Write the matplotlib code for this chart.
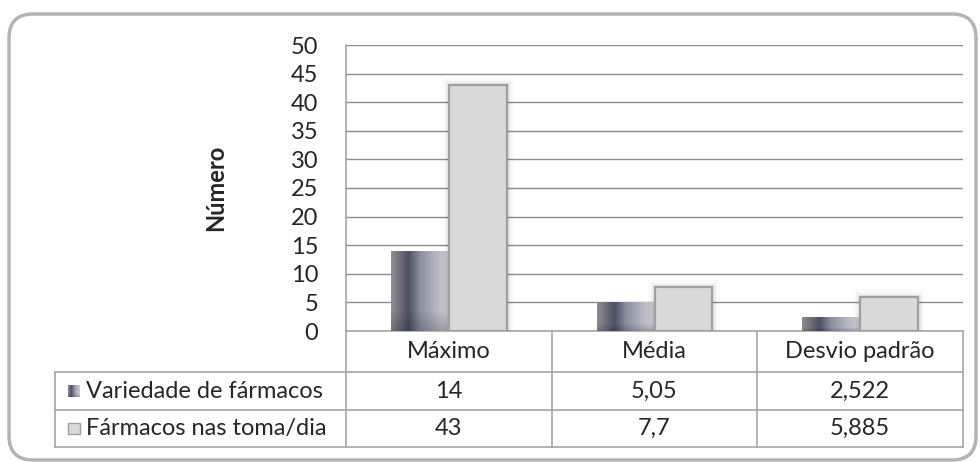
import matplotlib.pyplot as plt
import matplotlib.patheffects as pe
from matplotlib.patches import FancyBboxPatch, Rectangle
import numpy as np

# Data
categories = ['Máximo', 'Média', 'Desvio padrão']
series_names = ['Variedade de fármacos', 'Fármacos nas toma/dia']
variedade = [14, 5.05, 2.522]
tomas = [43, 7.7, 5.885]
variedade_txt = ['14', '5,05', '2,522']
tomas_txt = ['43', '7,7', '5,885']
yticks = [0, 5, 10, 15, 20, 25, 30, 35, 40, 45, 50]

plt.rcParams['font.family'] = ['Lato', 'DejaVu Sans']
fs = 17
txt_c = '#262626'
line_c = '#a6a6a6'

fig = plt.figure(figsize=(9.8, 4.62), dpi=100)
fig.patch.set_facecolor('white')

# Rounded chart border (drawn in a pixel-scaled background axes)
bg = fig.add_axes([0, 0, 1, 1])
bg.set_xlim(0, 980)
bg.set_ylim(462, 0)
bg.axis('off')
bg.add_patch(FancyBboxPatch((9, 14), 967, 446,
                            boxstyle='round,pad=0,rounding_size=24',
                            fill=False, edgecolor='#b4b4b4', linewidth=2.5))

ax = fig.add_axes([346 / 980, 131 / 462, 617 / 980, 286 / 462])
ax.set_xlim(-0.5, 2.5)
ax.set_ylim(0, 50)
ax.set_yticks(yticks)
ax.set_yticklabels([str(t) for t in yticks], fontsize=fs, color=txt_c)
ax.tick_params(axis='y', length=0, pad=20)
ax.set_xticks([])
ax.grid(axis='y', color='#8c8c8c', linewidth=1.0)
ax.set_axisbelow(True)
ax.patch.set_alpha(0)
for s in ['top', 'right', 'bottom']:
    ax.spines[s].set_visible(False)
ax.spines['left'].set_color(line_c)
ax.spines['left'].set_linewidth(1.2)
ax.set_ylabel('Número', fontsize=fs, fontweight='bold', labelpad=46, color=txt_c)

x = np.arange(len(categories))
w = 0.282

# horizontal colour profile of the dark bars (Excel-like gradient)
stops = np.array([0.0, 0.15, 0.3, 0.5, 0.75, 1.0])
cols = np.array([[142, 142, 144], [110, 111, 122], [77, 80, 98],
                 [138, 142, 160], [176, 178, 188], [207, 207, 211]]) / 255.0
gx = np.linspace(0, 1, 80)
prof = np.stack([np.interp(gx, stops, cols[:, k]) for k in range(3)], axis=1)
gy = np.linspace(0, 1, 40)[:, None, None]
shade = 0.82 + 0.18 * np.clip(gy * 4, 0, 1)
grad_img = prof[None, :, :] * shade

glow = [pe.Stroke(linewidth=10, foreground='#000000', alpha=0.02),
        pe.Stroke(linewidth=6, foreground='#000000', alpha=0.03),
        pe.Stroke(linewidth=3.5, foreground='#000000', alpha=0.05),
        pe.Normal()]

bars1 = ax.bar(x - w / 2, variedade, w, color='#8a8ea0', edgecolor='none', zorder=2)
for b in bars1:
    x0, y0 = b.get_x(), b.get_y()
    bw, bh = b.get_width(), b.get_height()
    im = ax.imshow(grad_img, aspect='auto', extent=(x0, x0 + bw, y0, y0 + bh),
                   origin='lower', interpolation='bilinear', zorder=2.5)
    im.set_clip_path(b)

bars2 = ax.bar(x + w / 2, tomas, w, color='#d9d9d9', edgecolor='#a0a0a0',
               linewidth=1.6, zorder=3)
for b in bars2:
    b.set_path_effects(glow)

# Data table below the axis
trans = ax.get_xaxis_transform()
row_y = [0, -41 / 286, -79 / 286, -116 / 286]
left_x = -0.5 - (346 - 55) / (617 / 3)

for xb in [-0.5, 0.5, 1.5, 2.5]:
    ax.plot([xb, xb], [row_y[0], row_y[3]], color=line_c, lw=1.2,
            transform=trans, clip_on=False)
ax.plot([-0.5, 2.5], [0, 0], color=line_c, lw=1.2, transform=trans, clip_on=False)
for ry in row_y[1:]:
    ax.plot([left_x, 2.5], [ry, ry], color=line_c, lw=1.2,
            transform=trans, clip_on=False)
ax.plot([left_x, left_x], [row_y[1], row_y[3]], color=line_c, lw=1.2,
        transform=trans, clip_on=False)

for i, c in enumerate(categories):
    ax.text(i, (row_y[0] + row_y[1]) / 2, c, ha='center', va='center',
            fontsize=fs, color=txt_c, transform=trans)
    ax.text(i, (row_y[1] + row_y[2]) / 2, variedade_txt[i], ha='center',
            va='center', fontsize=fs, color=txt_c, transform=trans)
    ax.text(i, (row_y[2] + row_y[3]) / 2, tomas_txt[i], ha='center',
            va='center', fontsize=fs, color=txt_c, transform=trans)

# Legend keys in the table
key_w = 0.055
key_h = 0.04
for j, name in enumerate(series_names):
    yc = (row_y[j + 1] + row_y[j + 2]) / 2
    kx = left_x + 0.065
    if j == 0:
        ax.imshow(grad_img, aspect='auto', origin='lower',
                  extent=(kx, kx + key_w, yc - key_h / 2, yc + key_h / 2),
                  transform=trans, clip_on=False, zorder=4)
    else:
        ax.add_patch(Rectangle((kx, yc - key_h / 2), key_w, key_h, transform=trans,
                               facecolor='#d9d9d9', edgecolor='#a0a0a0', lw=1,
                               clip_on=False, zorder=4))
    ax.text(kx + key_w + 0.03, yc, name, ha='left', va='center', fontsize=fs,
            color=txt_c, transform=trans)

fig.savefig('out.png', dpi=100)
